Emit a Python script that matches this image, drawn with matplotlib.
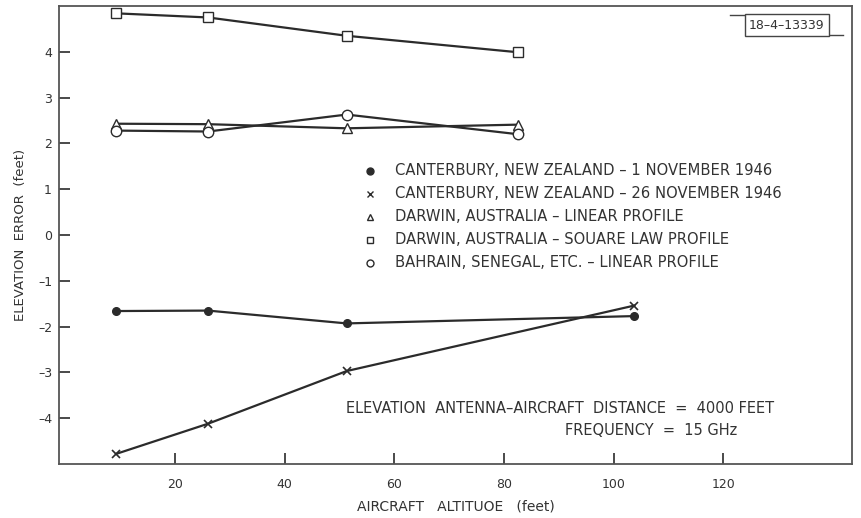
import matplotlib.pyplot as plt
import matplotlib

matplotlib.rcParams["font.family"] = ["DejaVu Sans"]

# 读图得到的数据
alt = [9.2, 26, 51.3, 82.6, 103.8]
canterbury_1 = [-1.66, -1.65, -1.93, None, -1.77]
canterbury_26 = [-4.78, -4.12, -2.97, None, -1.54]
darwin_linear = [2.43, 2.42, 2.33, 2.41]
darwin_square = [4.84, 4.75, 4.35, 3.99]
bahrain = [2.28, 2.26, 2.63, 2.20]

xticks = [20, 40, 60, 80, 100, 120]
yticks = [4, 3, 2, 1, 0, -1, -2, -3, -4]

labels = [
    "CANTERBURY, NEW ZEALAND \u2013 1 NOVEMBER 1946",
    "CANTERBURY, NEW ZEALAND \u2013 26 NOVEMBER 1946",
    "DARWIN, AUSTRALIA \u2013 LINEAR PROFILE",
    "DARWIN, AUSTRALIA \u2013 SOUARE LAW PROFILE",
    "BAHRAIN, SENEGAL, ETC. \u2013 LINEAR PROFILE",
]

c = "#2b2b2b"
tc = "#333333"
fig = plt.figure(figsize=(8.61, 5.18), dpi=100)
ax = fig.add_axes([0.0685, 0.1042, 0.921, 0.8842])

def pick(xs, ys):
    pts = [(x, y) for x, y in zip(xs, ys) if y is not None]
    return [p[0] for p in pts], [p[1] for p in pts]

x, y = pick(alt, canterbury_1)
ax.plot(x, y, color=c, lw=1.6, marker="o", ms=5.5, mfc=c, mec=c)
x, y = pick(alt, canterbury_26)
ax.plot(x, y, color=c, lw=1.6, marker="x", ms=6, mew=1.2)
ax.plot(alt[:4], darwin_linear, color=c, lw=1.6, marker="^", ms=7, mfc="white", mec=c)
ax.plot(alt[:4], darwin_square, color=c, lw=1.6, marker="s", ms=7, mfc="white", mec=c)
ax.plot(alt[:4], bahrain, color=c, lw=1.6, marker="o", ms=7.5, mfc="white", mec=c)

ax.set_xlim(-1.2, 143.5)
ax.set_ylim(-5, 5)
ax.set_xticks(xticks)
ax.set_yticks(yticks)
ax.set_yticklabels([str(v).replace("-", "\u2013") for v in yticks])
ax.tick_params(direction="in", length=8, width=1.2, color=c, labelsize=9,
               labelcolor=tc)
ax.tick_params(axis="x", pad=10)
ax.tick_params(axis="y", pad=5)
for s in ax.spines.values():
    s.set_color("#555555")
    s.set_linewidth(1.3)

ax.set_xlabel("AIRCRAFT   ALTITUOE   (feet)", fontsize=10, color=tc, labelpad=6)
ax.set_ylabel("ELEVATION  ERROR  (feet)", fontsize=9.5, color=tc, labelpad=8)

# 图例（手工排布）
syms = ["o", "x", "^", "s", "o"]
fills = [c, c, "white", "white", "white"]
for i, (lab, m, f) in enumerate(zip(labels, syms, fills)):
    yy = 0.640 - i * 0.0502
    ax.plot([0.392], [yy], transform=ax.transAxes, marker=m, ms=5, mfc=f, mec=c,
            color=c, mew=1.0, ls="none", clip_on=False)
    ax.text(0.424, yy, lab, transform=ax.transAxes, fontsize=10.6, color=tc,
            va="center", ha="left")

ax.text(0.902, 0.122, "ELEVATION  ANTENNA\u2013AIRCRAFT  DISTANCE  =  4000 FEET",
        transform=ax.transAxes, fontsize=10.5, color=tc, ha="right", va="center")
ax.text(0.855, 0.074, "FREQUENCY  =  15 GHz", transform=ax.transAxes, fontsize=10.5,
        color=tc, ha="right", va="center")

# 编号框
ax.text(0.918, 0.9585, "18\u20134\u201313339", transform=ax.transAxes, fontsize=9,
        color=tc, ha="center", va="center",
        bbox=dict(boxstyle="square,pad=0.35", fc="white", ec="#444444", lw=1))
ax.plot([0.846, 0.926], [0.980, 0.980], transform=ax.transAxes, color="#444444", lw=1)
ax.plot([0.967, 0.989], [0.937, 0.937], transform=ax.transAxes, color="#444444", lw=1)

fig.savefig("out.png", dpi=100)
